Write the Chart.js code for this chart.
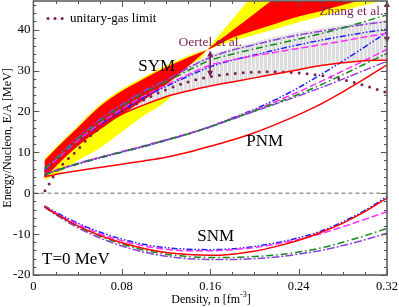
<!DOCTYPE html>
<html>
<head>
<meta charset="utf-8">
<script src="https://cdn.jsdelivr.net/npm/chart.js@4.4.1/dist/chart.umd.min.js"></script>
<style>
  html, body { margin: 0; padding: 0; background: #fff; }
  canvas { display: block; }
</style>
</head>
<body>
<canvas id="c" width="399" height="307"></canvas>
<script>
// density grid, fm^-3
const density = [0.01, 0.02, 0.04, 0.06, 0.08, 0.10, 0.12, 0.14, 0.16, 0.18, 0.20, 0.22, 0.24, 0.26, 0.28, 0.30, 0.32];
const grayDensity = [0.08, 0.10, 0.12, 0.14, 0.16, 0.18, 0.20, 0.22, 0.24, 0.26, 0.28, 0.30, 0.32];

// symmetry energy constraint bands (two edges each, they cross near n0)
const yellowFlat  = [8.4, 11.2, 16.4, 21.6, 25.4, 28.4, 31.2, 33.6, 35.3, 37.2, 38.7, 40.2, 41.8, 43.2, 44.6, 46.0, 47.4];
const yellowSteep = [3.2, 4.5, 8.0, 11.0, 15.0, 19.0, 22.5, 28.5, 36.0, 42.5, 49.0, 56.0, 63.0, 70.0, 77.0, 84.0, 91.0];
const redFlat     = [8.0, 10.8, 16.0, 21.2, 25.0, 28.0, 30.8, 33.2, 35.3, 38.0, 39.8, 41.5, 43.2, 44.5, 46.0, 47.5, 49.0];
const redSteep    = [3.7, 6.5, 11.5, 15.5, 19.3, 22.8, 26.5, 31.0, 35.7, 39.8, 43.9, 48.0, 52.0, 56.0, 60.0, 64.0, 68.0];
const grayUpper   = [22.0, 25.5, 28.3, 31.2, 33.8, 35.6, 37.0, 38.3, 39.4, 40.3, 41.1, 41.8, 42.5];

// SYM models
const symRed     = [5.0, 7.5, 12.2, 16.2, 19.3, 21.6, 23.6, 25.0, 26.2, 27.2, 28.2, 29.2, 30.2, 31.2, 31.9, 32.4, 32.5];
const symGreen   = [6.0, 8.3, 13.2, 17.5, 21.2, 24.5, 27.2, 30.0, 32.5, 34.0, 35.3, 36.5, 37.7, 39.0, 40.4, 42.0, 43.6];
const symViolet  = [6.0, 8.5, 13.5, 18.0, 21.7, 25.0, 27.7, 30.6, 33.2, 35.0, 36.3, 37.6, 38.7, 39.6, 40.5, 41.3, 42.0];
const symMagenta = [5.8, 8.0, 12.8, 17.0, 20.6, 23.8, 26.4, 29.0, 31.3, 32.6, 33.6, 34.5, 35.4, 36.3, 37.2, 38.2, 39.1];
const symBlue    = [5.5, 7.7, 12.4, 16.6, 20.2, 23.4, 26.1, 28.6, 30.9, 32.5, 33.8, 35.1, 36.3, 37.4, 38.4, 39.3, 40.1];

// PNM models
const pnmRed     = [4.0, 4.6, 5.5, 6.3, 7.1, 7.9, 8.8, 10.0, 11.5, 13.0, 14.8, 16.9, 19.2, 21.8, 24.8, 28.0, 31.4];
const pnmGreen   = [4.5, 5.5, 7.2, 8.7, 10.1, 11.5, 13.0, 14.5, 16.2, 18.2, 20.1, 22.1, 24.2, 26.5, 29.0, 31.6, 34.2];
const pnmViolet  = [4.5, 5.5, 7.2, 8.7, 10.1, 11.5, 13.0, 14.5, 16.2, 18.1, 20.0, 21.9, 23.8, 25.8, 27.9, 30.1, 32.3];
const pnmMagenta = [4.6, 5.6, 7.3, 8.8, 10.2, 11.6, 13.1, 14.6, 16.3, 18.3, 20.3, 22.5, 24.8, 27.3, 29.9, 32.5, 35.2];
const pnmBlue    = [4.4, 5.4, 7.1, 8.6, 10.0, 11.4, 12.9, 14.5, 16.3, 18.4, 20.5, 23.0, 25.8, 29.0, 32.3, 35.8, 39.4];

// SNM models
const snmRed     = [-3.3, -5.0, -8.0, -10.3, -12.1, -13.5, -14.5, -15.0, -15.2, -14.9, -14.2, -13.0, -11.5, -9.6, -7.3, -4.5, -1.2];
const snmGreen   = [-3.3, -5.0, -8.1, -10.5, -12.4, -13.9, -14.9, -15.5, -15.7, -15.7, -15.5, -15.1, -14.4, -13.4, -12.0, -10.4, -8.6];
const snmViolet  = [-3.4, -5.2, -8.4, -10.9, -12.9, -14.4, -15.4, -16.0, -16.2, -16.2, -16.0, -15.6, -14.9, -14.0, -12.8, -11.4, -9.8];
const snmMagenta = [-3.2, -4.8, -7.6, -9.9, -11.6, -12.9, -13.7, -14.1, -14.1, -13.8, -13.3, -12.4, -11.3, -9.9, -8.2, -6.4, -4.5];
const snmBlue    = [-3.1, -4.6, -7.3, -9.5, -11.2, -12.5, -13.3, -13.7, -13.8, -13.6, -13.0, -12.1, -10.9, -9.3, -7.0, -4.2, -0.8];

// unitary-gas limit (dotted)
const ugDensity = [0.0105, 0.015, 0.02, 0.03, 0.04, 0.05, 0.06, 0.08, 0.10, 0.12, 0.14, 0.16, 0.18, 0.20, 0.22, 0.24, 0.26, 0.28, 0.30, 0.32];
const ugEnergy  = [0.6, 2.6, 5.0, 8.0, 10.6, 13.6, 15.9, 19.8, 22.8, 25.3, 27.2, 28.5, 29.2, 29.6, 29.7, 29.4, 28.8, 27.8, 26.3, 24.6];

// experimental constraints (double arrows)
const oertel = { n: 0.16, lo: 28.5, hi: 34.9 };
const zhang  = { n: 0.32, lo: 36.8, hi: 57.0 };

const xTicks = [0, 0.08, 0.16, 0.24, 0.32];

const RED = '#ff0000', GREEN = '#13891b', VIOLET = '#8c3fd9', MAGENTA = '#ff2bff', BLUE = '#2020ff';
const MAROON = '#7b1f57';
const SERIF = '"Liberation Serif", "Times New Roman", serif';

function pts(xs, ys) { return xs.map((x, i) => ({ x: x, y: ys[i] })); }

function edge(xs, ys, order) {
  return { data: pts(xs, ys), borderColor: 'rgba(0,0,0,0)', borderWidth: 0, pointRadius: 0,
           fill: false, cubicInterpolationMode: 'monotone', order: order };
}
function band(xs, ys, color, order) {
  return { data: pts(xs, ys), borderColor: 'rgba(0,0,0,0)', borderWidth: 0, pointRadius: 0,
           fill: '-1', backgroundColor: color, cubicInterpolationMode: 'monotone', order: order };
}
function line(ys, color, dash) {
  return { data: pts(density, ys), borderColor: color, borderWidth: 1.5, borderDash: dash || [],
           pointRadius: 0, fill: false, cubicInterpolationMode: 'monotone', order: 1 };
}

// hatched light gray for the model spread
const pc = document.createElement('canvas');
pc.width = 4; pc.height = 4;
const pctx = pc.getContext('2d');
pctx.fillStyle = '#dedede'; pctx.fillRect(0, 0, 4, 4);
pctx.fillStyle = '#f5f5f5'; pctx.fillRect(3, 0, 1, 4);
const grayPattern = pctx.createPattern(pc, 'repeat');

const dGreen = [7, 3, 1.5, 3], dViolet = [8, 2, 2, 2], dBlue = [6, 2, 1.5, 2, 1.5, 2], dMagenta = [7, 3];

const datasets = [
  edge(density, yellowFlat, 12),
  band(density, yellowSteep, '#ffff00', 11),
  edge(grayDensity, grayUpper, 10),
  band(grayDensity, symRed.slice(4), grayPattern, 9),
  edge(density, redFlat, 8),
  band(density, redSteep, RED, 7),
  { data: pts([0, 0.32], [0, 0]), borderColor: '#999', borderWidth: 1.5, borderDash: [4, 3],
    pointRadius: 0, fill: false, order: 6 },
  { data: pts(ugDensity, ugEnergy), borderColor: MAROON, borderWidth: 3, borderDash: [0, 8],
    borderCapStyle: 'round', pointRadius: 0, fill: false, cubicInterpolationMode: 'monotone', order: 2 },
  line(symRed, RED), line(symGreen, GREEN, dGreen), line(symViolet, VIOLET, dViolet),
  line(symMagenta, MAGENTA, dMagenta), line(symBlue, BLUE, dBlue),
  line(pnmRed, RED), line(pnmGreen, GREEN, dGreen), line(pnmViolet, VIOLET, dViolet),
  line(pnmMagenta, MAGENTA, dMagenta), line(pnmBlue, BLUE, dBlue),
  line(snmRed, RED), line(snmGreen, GREEN, dGreen), line(snmViolet, VIOLET, dViolet),
  line(snmMagenta, MAGENTA, dMagenta), line(snmBlue, BLUE, dBlue)
];

// text placed in data coordinates
const labels = [
  { text: 'SYM', n: 0.1115, v: 30.9, size: 17, color: '#000', align: 'center' },
  { text: 'PNM', n: 0.2093, v: 12.6, size: 17, color: '#000', align: 'center' },
  { text: 'SNM', n: 0.165, v: -10.7, size: 17, color: '#000', align: 'center' },
  { text: 'T=0 MeV', n: 0.0078, v: -16.3, size: 17, color: '#000', align: 'left' },
  { text: 'Oertel et al.', n: 0.16, v: 36.8, size: 13.5, color: MAROON, align: 'center' },
  { text: 'Zhang et al.', n: 0.2877, v: 44.4, size: 13.5, color: MAROON, align: 'center' },
  { text: 'unitary-gas limit', n: 0.0332, v: 42.7, size: 13, color: '#000', align: 'left' }
];
const legendDots = [0.0132, 0.0196, 0.026];

function arrowHead(ctx, x, y, dir) {
  ctx.beginPath();
  ctx.moveTo(x, y);
  ctx.lineTo(x - 3, y - dir * 6);
  ctx.lineTo(x + 3, y - dir * 6);
  ctx.closePath();
  ctx.fill();
}

const decor = {
  id: 'decor',
  afterDraw(chart) {
    const ctx = chart.ctx, xs = chart.scales.x, ys = chart.scales.y, a = chart.chartArea;
    ctx.save();

    // arrows
    ctx.strokeStyle = MAROON; ctx.fillStyle = MAROON; ctx.lineWidth = 1.5;
    [oertel, zhang].forEach(c => {
      const px = xs.getPixelForValue(c.n);
      const top = ys.getPixelForValue(Math.min(c.hi, ys.max));
      const bot = ys.getPixelForValue(c.lo);
      ctx.beginPath(); ctx.moveTo(px, top + 4); ctx.lineTo(px, bot - 4); ctx.stroke();
      arrowHead(ctx, px, top, -1);
      arrowHead(ctx, px, bot, 1);
    });

    // frame and inward ticks
    ctx.strokeStyle = '#555'; ctx.lineWidth = 1;
    for (let k = 0; k <= 16; k++) {
      const px = Math.round(xs.getPixelForValue(k * 0.02)) + 0.5;
      const len = k % 4 === 0 ? 6 : 3;
      ctx.beginPath();
      ctx.moveTo(px, a.bottom); ctx.lineTo(px, a.bottom - len);
      ctx.moveTo(px, a.top); ctx.lineTo(px, a.top + len);
      ctx.stroke();
    }
    for (let v = -20; v <= 46; v += 2) {
      const py = Math.round(ys.getPixelForValue(v)) + 0.5;
      const len = v % 10 === 0 ? 6 : 3;
      ctx.beginPath();
      ctx.moveTo(a.left, py); ctx.lineTo(a.left + len, py);
      ctx.moveTo(a.right, py); ctx.lineTo(a.right - len, py);
      ctx.stroke();
    }
    ctx.lineWidth = 1.5;
    ctx.strokeRect(a.left, a.top, a.right - a.left, a.bottom - a.top);

    // legend dots
    ctx.fillStyle = MAROON;
    legendDots.forEach(n => {
      ctx.beginPath();
      ctx.arc(xs.getPixelForValue(n), ys.getPixelForValue(42.7), 1.5, 0, Math.PI * 2);
      ctx.fill();
    });

    // annotation text
    ctx.textBaseline = 'middle';
    labels.forEach(l => {
      ctx.font = l.size + 'px ' + SERIF;
      ctx.fillStyle = l.color;
      ctx.textAlign = l.align;
      ctx.fillText(l.text, xs.getPixelForValue(l.n), ys.getPixelForValue(l.v));
    });

    // axis titles
    ctx.fillStyle = '#000';
    ctx.font = '12px ' + SERIF;
    ctx.save();
    ctx.translate(8, 138);
    ctx.rotate(-Math.PI / 2);
    ctx.textAlign = 'center';
    ctx.fillText('Energy/Nucleon, E/A [MeV]', 0, 0);
    ctx.restore();

    const t1 = 'Density, n [fm', t2 = '-3', t3 = ']';
    ctx.font = '12px ' + SERIF;
    const w1 = ctx.measureText(t1).width, w3 = ctx.measureText(t3).width;
    ctx.font = '8px ' + SERIF;
    const w2 = ctx.measureText(t2).width;
    let x0 = 211 - (w1 + w2 + w3) / 2;
    ctx.textAlign = 'left';
    ctx.font = '12px ' + SERIF;
    ctx.fillText(t1, x0, 300);
    ctx.font = '8px ' + SERIF;
    ctx.fillText(t2, x0 + w1, 295);
    ctx.font = '12px ' + SERIF;
    ctx.fillText(t3, x0 + w1 + w2, 300);

    ctx.restore();
  }
};

new Chart(document.getElementById('c').getContext('2d'), {
  type: 'line',
  data: { datasets: datasets },
  options: {
    responsive: false,
    animation: false,
    events: [],
    layout: { padding: { left: 0, right: 12, top: 1, bottom: 0 } },
    plugins: { legend: { display: false }, tooltip: { enabled: false } },
    scales: {
      x: {
        type: 'linear', min: 0, max: 0.32,
        afterBuildTicks: s => { s.ticks = xTicks.map(v => ({ value: v })); },
        afterFit: s => { s.height = 32; s.paddingLeft = 0; s.paddingRight = 0; },
        grid: { display: false, drawTicks: false }, border: { display: false },
        ticks: { padding: 4, color: '#000', maxRotation: 0, font: { family: SERIF, size: 12.5 },
                 callback: v => v === 0 ? '0' : v.toFixed(2) }
      },
      y: {
        min: -20, max: 47,
        afterFit: s => { s.width = 33.4; s.paddingTop = 0; s.paddingBottom = 0; },
        grid: { display: false, drawTicks: false }, border: { display: false },
        ticks: { stepSize: 10, includeBounds: false, padding: 3, color: '#000', font: { family: SERIF, size: 13 } }
      }
    }
  },
  plugins: [decor]
});
</script>
</body>
</html>
